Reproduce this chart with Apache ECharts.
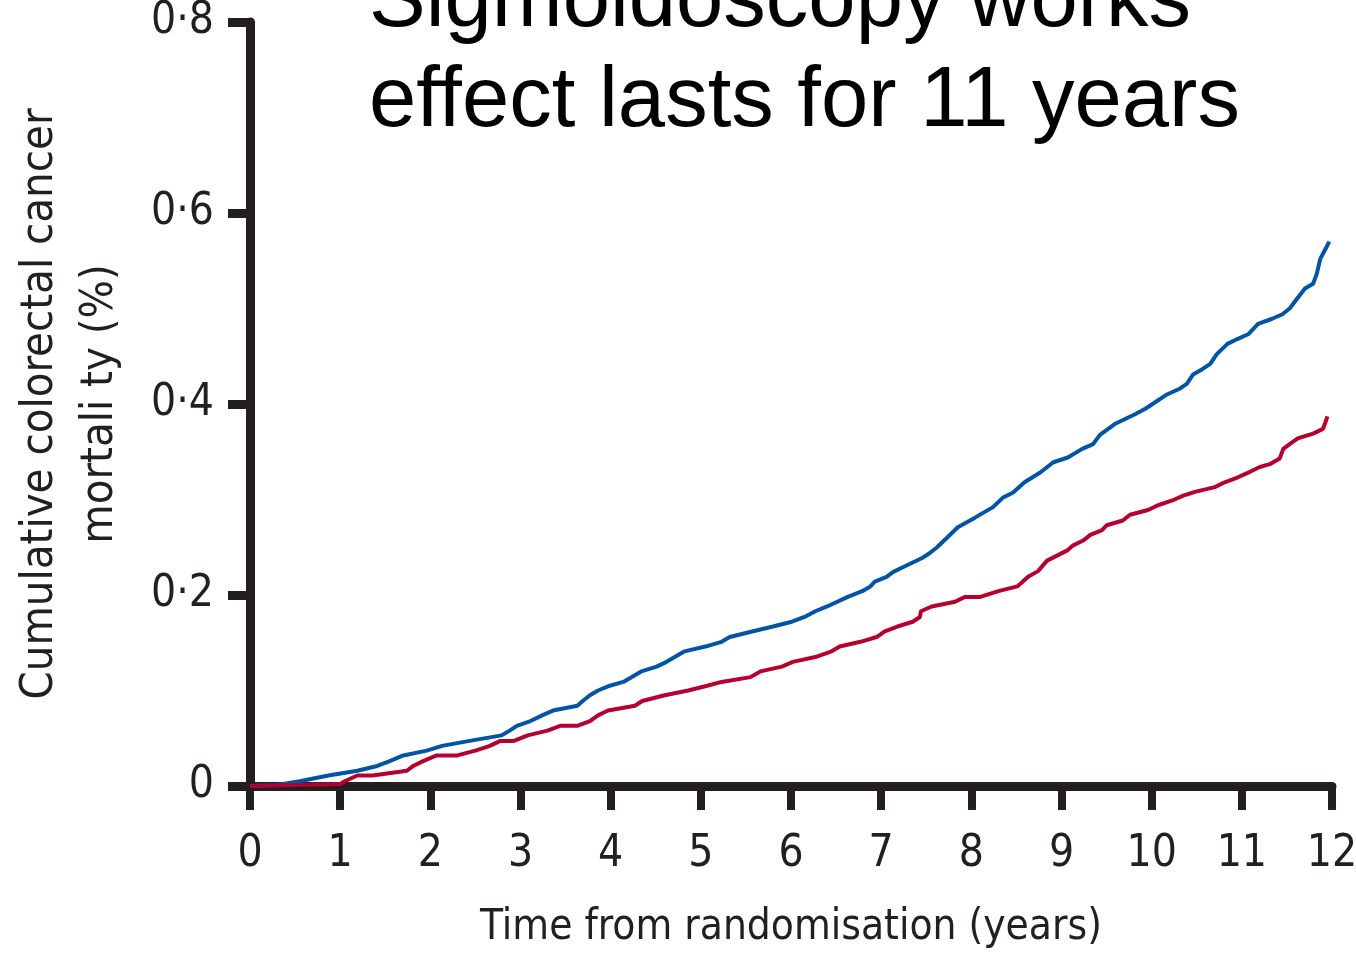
<!DOCTYPE html>
<html>
<head>
<meta charset="utf-8">
<script src="https://cdn.jsdelivr.net/npm/echarts@6/dist/echarts.min.js"></script>
<style>
html,body{margin:0;padding:0;background:#fff;}
#chart{width:1356px;height:953px;}
</style>
</head>
<body>
<div id="chart"></div>
<script>
// Time (years) and cumulative mortality (%)
const blueYears = [0,0.3,0.55,0.87,1.19,1.41,1.55,1.70,1.96,2.13,2.42,2.79,2.88,2.96,3.11,3.24,3.36,3.63,3.69,3.77,3.86,3.99,4.14,4.34,4.51,4.62,4.82,5.05,5.23,5.32,5.58,5.80,6.01,6.15,6.27,6.40,6.63,6.79,6.88,6.93,7.06,7.13,7.24,7.35,7.46,7.54,7.62,7.73,7.85,8.04,8.24,8.35,8.46,8.59,8.76,8.91,9.07,9.23,9.35,9.43,9.59,9.81,9.93,10.01,10.17,10.31,10.39,10.46,10.57,10.65,10.72,10.84,10.95,11.07,11.18,11.33,11.45,11.53,11.61,11.70,11.79,11.83,11.87,11.92,11.97];
const blueMortality = [0,0.001,0.005,0.011,0.016,0.021,0.026,0.032,0.037,0.042,0.047,0.053,0.058,0.063,0.068,0.074,0.079,0.084,0.089,0.095,0.100,0.105,0.109,0.120,0.125,0.130,0.141,0.146,0.151,0.156,0.162,0.167,0.172,0.177,0.183,0.188,0.198,0.204,0.209,0.214,0.219,0.224,0.229,0.234,0.239,0.244,0.250,0.260,0.271,0.281,0.292,0.302,0.307,0.318,0.328,0.339,0.344,0.353,0.358,0.368,0.379,0.389,0.395,0.400,0.410,0.416,0.421,0.431,0.437,0.442,0.452,0.463,0.468,0.473,0.484,0.489,0.494,0.500,0.510,0.521,0.526,0.536,0.552,0.561,0.570];

const redYears = [0,1.0,1.05,1.19,1.36,1.74,1.81,1.92,2.07,2.30,2.50,2.66,2.77,2.92,3.08,3.30,3.44,3.63,3.77,3.86,3.97,4.27,4.35,4.60,4.86,5.07,5.23,5.55,5.66,5.90,6.02,6.27,6.45,6.54,6.77,6.95,7.04,7.18,7.35,7.43,7.44,7.56,7.82,7.93,8.10,8.30,8.51,8.63,8.74,8.84,9.07,9.13,9.24,9.32,9.45,9.50,9.68,9.76,9.96,10.07,10.23,10.35,10.48,10.70,10.81,10.95,11.09,11.20,11.31,11.42,11.46,11.53,11.62,11.79,11.90,11.92,11.95];
const redMortality = [0,0.002,0.005,0.011,0.011,0.016,0.021,0.026,0.032,0.032,0.037,0.042,0.047,0.047,0.053,0.058,0.063,0.063,0.068,0.074,0.079,0.084,0.089,0.095,0.100,0.105,0.109,0.114,0.120,0.125,0.130,0.135,0.141,0.146,0.151,0.156,0.162,0.167,0.172,0.177,0.183,0.188,0.193,0.198,0.198,0.204,0.209,0.219,0.225,0.236,0.247,0.252,0.257,0.263,0.268,0.273,0.278,0.284,0.289,0.294,0.299,0.304,0.308,0.313,0.318,0.323,0.329,0.334,0.337,0.343,0.353,0.358,0.364,0.369,0.374,0.379,0.387];

const xTickLabels = ['0','1','2','3','4','5','6','7','8','9','10','11','12'];
const yTickLabels = ['0','0·2','0·4','0·6','0·8'];

const titleLines = ['Sigmoidoscopy works', 'effect lasts for 11 years'];
const xAxisTitle = 'Time from randomisation (years)';
const yAxisTitleLines = ['Cumulative colorectal cancer', 'mortali ty (%)'];

const axisColor = '#231f20';
const narrow = "'Liberation Sans Narrow', 'DejaVu Sans Condensed', 'Liberation Sans', sans-serif";

const zip = (a, b) => a.map((v, i) => [v, b[i]]);

const chart = echarts.init(document.getElementById('chart'), null, {renderer: 'canvas'});
chart.setOption({
  backgroundColor: '#ffffff',
  animation: false,
  title: {
    text: titleLines.join('\n'),
    left: 364,
    top: -52,
    textStyle: {
      fontFamily: "'Liberation Sans', Arial, sans-serif",
      fontWeight: 'normal',
      fontSize: 85,
      lineHeight: 100,
      color: '#000000'
    }
  },
  grid: {left: 250, right: 24, top: 22, bottom: 167, containLabel: false, outerBoundsMode: 'none'},
  xAxis: {
    type: 'value',
    min: 0, max: 12, interval: 1,
    name: xAxisTitle,
    nameLocation: 'middle',
    nameGap: 121,
    nameTextStyle: {fontFamily: narrow, fontSize: 42, color: axisColor},
    axisLine: {show: true, onZero: false, lineStyle: {color: axisColor, width: 9}},
    axisTick: {show: true, length: 24, lineStyle: {color: axisColor, width: 8}},
    axisLabel: {
      margin: 47, fontFamily: narrow, fontSize: 44, color: axisColor,
      formatter: (v) => xTickLabels[Math.round(v)]
    },
    splitLine: {show: false}
  },
  yAxis: {
    type: 'value',
    min: 0, max: 0.8, interval: 0.2,
    name: yAxisTitleLines.join('\n'),
    nameLocation: 'middle',
    nameGap: 120,
    nameRotate: 90,
    nameTextStyle: {fontFamily: narrow, fontSize: 45, lineHeight: 60, color: axisColor},
    axisLine: {show: true, onZero: false, lineStyle: {color: axisColor, width: 9}},
    axisTick: {show: true, length: 22, lineStyle: {color: axisColor, width: 9}},
    axisLabel: {
      margin: 36, fontFamily: narrow, fontSize: 44, color: axisColor,
      formatter: (v) => yTickLabels[Math.round(v / 0.2)]
    },
    splitLine: {show: false}
  },
  series: [
    {
      name: 'Control',
      type: 'line',
      data: zip(blueYears, blueMortality),
      showSymbol: false,
      lineStyle: {color: '#0054a4', width: 4},
      itemStyle: {color: '#0054a4'},
      z: 3
    },
    {
      name: 'Intervention',
      type: 'line',
      data: zip(redYears, redMortality),
      showSymbol: false,
      lineStyle: {color: '#b5002f', width: 4},
      itemStyle: {color: '#b5002f'},
      z: 4
    }
  ]
});
</script>
</body>
</html>
